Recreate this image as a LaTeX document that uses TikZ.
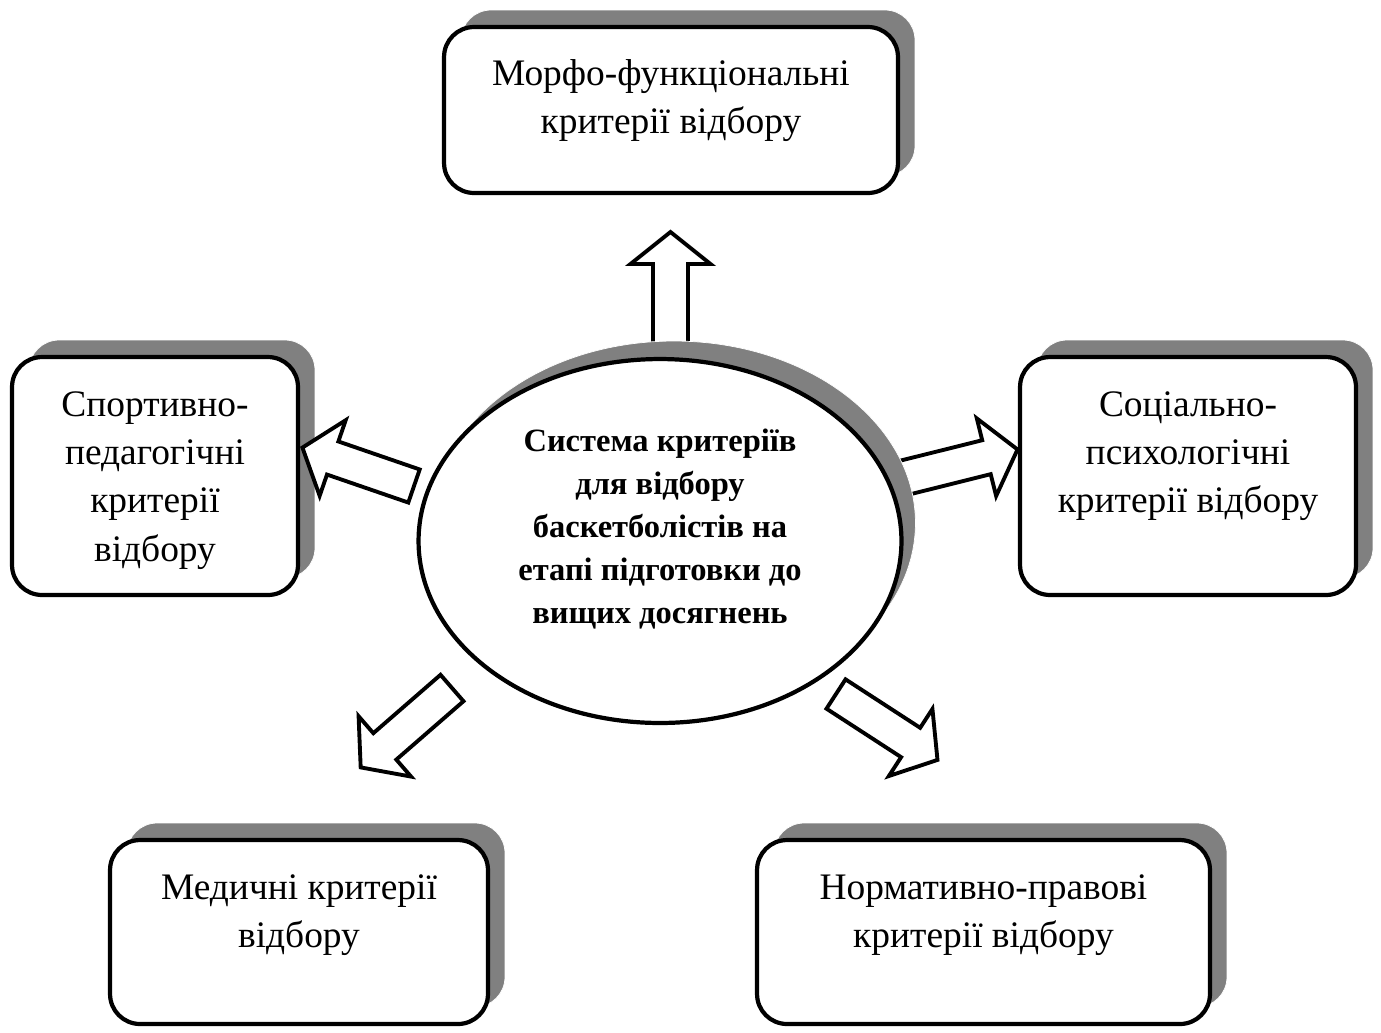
\documentclass[tikz,border=0pt]{standalone}
\usepackage{fontspec}
\setmainfont{Liberation Serif}
\usetikzlibrary{shadows,shapes.geometric}

\tikzset{
  critbox/.style={draw,line width=2.4pt,fill=white,rounded corners=0.6cm,inner sep=0pt,
    drop shadow={shadow xshift=0.34cm,shadow yshift=0.34cm,fill=gray,draw=white,line width=0.4pt,opacity=1}},
  critell/.style={ellipse,draw,line width=2.4pt,fill=white,inner sep=0pt,
    drop shadow={shadow xshift=0.28cm,shadow yshift=0.36cm,fill=gray,draw=white,line width=0.4pt,opacity=1}},
  crittext/.style={align=center,inner sep=0pt,font=\fontsize{21.3}{27.5}\selectfont},
  systext/.style={align=center,inner sep=0pt,font=\fontsize{18.5}{24.5}\selectfont\bfseries},
  blkarrow/.style={draw,line width=2.2pt,fill=white,line join=miter},
}
% start, angle, length
\newcommand\blockarrow[3]{%
  \draw[blkarrow,shift={#1},rotate=#2] (0,-17.5) -- ({#3-32},-17.5) -- ({#3-32},-40) -- (#3,0)
     -- ({#3-32},40) -- ({#3-32},17.5) -- (0,17.5) -- cycle;}

\begin{document}
\begin{tikzpicture}[x=0.02cm,y=-0.02cm]
  \useasboundingbox (0,0) rectangle (1381,1032);

  % criteria
  \node[critbox,minimum width=9.08cm,minimum height=3.32cm,
        label={[crittext,anchor=north,yshift=-0.68cm]north:Морфо-функціональні\\критерії відбору}]
        (morph) at (671,110) {};
  \node[critbox,minimum width=5.72cm,minimum height=4.76cm,
        label={[crittext,anchor=north,yshift=-0.72cm]north:Спортивно-\\педагогічні\\критерії\\відбору}]
        (sport) at (155,476) {};
  \node[critbox,minimum width=6.72cm,minimum height=4.76cm,
        label={[crittext,anchor=north,yshift=-0.72cm]north:Соціально-\\психологічні\\критерії відбору}]
        (social) at (1188,476) {};
  \node[critbox,minimum width=7.56cm,minimum height=3.68cm,
        label={[crittext,anchor=north,yshift=-0.72cm]north:Медичні критерії\\відбору}]
        (medic) at (299,932) {};
  \node[critbox,minimum width=9.06cm,minimum height=3.68cm,
        label={[crittext,anchor=north,yshift=-0.72cm]north:Нормативно-правові\\критерії відбору}]
        (norm) at (983.5,932) {};

  % block arrows from the centre outwards
  \blockarrow{(670.5,345)}{90}{113}
  \blockarrow{(414,486)}{161}{118}
  \blockarrow{(903,478)}{14}{118}
  \blockarrow{(452,688)}{221}{121}
  \blockarrow{(836,694)}{-33}{121}

  % centre
  \node[critell,minimum width=9.66cm,minimum height=7.28cm,
        label={[systext,anchor=center,yshift=0.24cm]center:Система критеріїв\\для відбору\\баскетболістів на\\етапі підготовки до\\вищих досягнень}]
        (sys) at (660,541) {};
\end{tikzpicture}
\end{document}
